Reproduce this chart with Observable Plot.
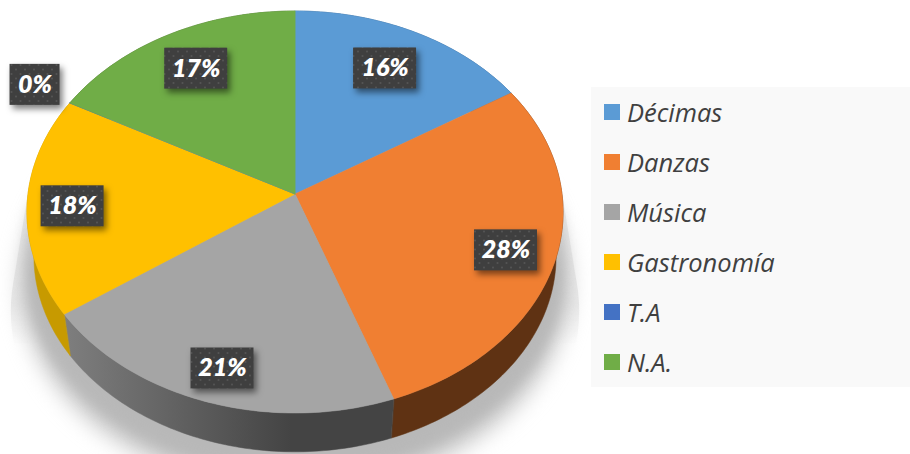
<!DOCTYPE html>
<html>
<head>
<meta charset="utf-8">
<script src="https://cdn.jsdelivr.net/npm/d3@7"></script>
<script src="https://cdn.jsdelivr.net/npm/@observablehq/plot@0.6"></script>
<style>
html,body{margin:0;padding:0;background:#fff;overflow:hidden}
#wrap{position:relative;width:910px;height:454px;overflow:hidden}
#legend{position:absolute;left:591px;top:87px;width:319px;height:300px;background:#f9f9f9;font:italic 25.5px "Open Sans",sans-serif;color:#404040}
#legend .row{position:absolute;left:13px;height:50px;display:flex;align-items:center;white-space:nowrap}
#legend .sw{width:16px;height:16px;margin-right:8px;flex:none}
#legend .tx{margin-left:-1px}
</style>
</head>
<body>
<div id="wrap"></div>
<script>
// data (percent of the whole)
const categories = ["Décimas", "Danzas", "Música", "Gastronomía", "T.A", "N.A."];
const shares = [16.1, 28.4, 20.8, 17.6, 0, 17.1];
const colors = ["#5b9bd5", "#f07f32", "#a5a5a5", "#ffc000", "#4472c4", "#70ad47"];
const sideColors = ["#2f5f8c", "#5f3213", "url(#graySide)", "#c79a00", "#26447c", "#43682a"];
const labelRadius = [0.757, 0.8186, 0.8496, 0.8307, 1.1745, 0.773];
const labelTurn = [-0.8, 0.6, -0.4, -1, 0.9, 0.3];

// layout of the tilted disc
const W = 910, H = 454, cx = 294.5, cy = 193.5, A = 267, B = 199.4, k = 0.0896;
const base = {scale: 0.974, drop: 44.5 / B};

function project(theta, r = 1, scale = 1, drop = 0) {
  const w = 1 + k * r * Math.cos(theta);
  return {x: scale * r * Math.sin(theta) / w, y: scale * -r * Math.cos(theta) / w + drop};
}
function arc(a0, a1) {
  const n = Math.max(1, Math.ceil((a1 - a0) / (Math.PI / 180)));
  return d3.range(n + 1).map(i => a0 + (a1 - a0) * i / n);
}

const pie = d3.pie().sort(null).value(d => d)(shares);
const full = arc(0, 2 * Math.PI);

const tops = pie.flatMap((s, i) =>
  [{...project(0, 0), name: categories[i]}, ...arc(s.startAngle, s.endAngle).map(t => ({...project(t), name: categories[i]}))]
);
const sides = pie.map((s, i) => {
  const t = arc(s.startAngle, s.endAngle);
  return [...t.map(a => project(a)), ...t.slice().reverse().map(a => project(a, 1, base.scale, base.drop))];
});
const labels = pie.map((s, i) => {
  const p = project((s.startAngle + s.endAngle) / 2 + labelTurn[i] * Math.PI / 180, labelRadius[i]);
  const text = Math.round(shares[i]) + "%";
  const hw = (text.length > 2 ? 31.5 : 25) / A, hh = 20.5 / B;
  return {...p, text, x1: p.x - hw, x2: p.x + hw, y1: p.y - hh, y2: p.y + hh};
});

function hull(a, b) {
  const pts = [...a, ...b].map(p => [p.x, p.y]);
  return d3.polygonHull(pts).map(([x, y]) => ({x, y}));
}
const shadowFan = hull(full.map(t => project(t)), full.map(t => project(t, 1, 1.06, 0.49)));
const shadowInner = hull(full.map(t => project(t)), full.map(t => project(t, 1, 1, 0.3)));
const shadowTight = full.map(t => project(t, 1, 1.02, 0.36));

const defs = () => {
  const svg = d3.create("svg:defs");
  const g = svg.append("linearGradient").attr("id", "graySide").attr("gradientUnits", "userSpaceOnUse")
    .attr("x1", 65).attr("x2", 290).attr("y1", 0).attr("y2", 0);
  g.append("stop").attr("offset", 0).attr("stop-color", "#7e7e7e");
  g.append("stop").attr("offset", 1).attr("stop-color", "#444444");
  const f = svg.append("linearGradient").attr("id", "fan").attr("gradientUnits", "userSpaceOnUse")
    .attr("x1", 0).attr("x2", 0).attr("y1", 180).attr("y2", 345);
  [[0, 0.9], [0.75, 1], [1, 0]].forEach(([o, a]) =>
    f.append("stop").attr("offset", o).attr("stop-color", "#ececec").attr("stop-opacity", a));
  const n = svg.append("linearGradient").attr("id", "inner").attr("gradientUnits", "userSpaceOnUse")
    .attr("x1", 0).attr("x2", 0).attr("y1", 195).attr("y2", 270);
  [[0, 0], [1, 1]].forEach(([o, a]) =>
    n.append("stop").attr("offset", o).attr("stop-color", "#b8b8b8").attr("stop-opacity", a));
  const p = svg.append("pattern").attr("id", "dots").attr("patternUnits", "userSpaceOnUse")
    .attr("width", 9).attr("height", 9);
  p.append("rect").attr("width", 9).attr("height", 9).attr("fill", "#3f3f3f");
  p.append("circle").attr("cx", 2.5).attr("cy", 2).attr("r", 1).attr("fill", "#555555");
  p.append("circle").attr("cx", 7).attr("cy", 6.5).attr("r", 1).attr("fill", "#555555");
  return svg.node();
};

const chart = Plot.plot({
  width: W, height: H,
  margin: 0,
  x: {domain: [-cx / A, (W - cx) / A], range: [0, W], axis: null},
  y: {domain: [-cy / B, (H - cy) / B], range: [0, H], axis: null},
  color: {domain: categories, range: colors},
  style: {background: "transparent"},
  marks: [
    defs,
    Plot.line(shadowFan, {x: "x", y: "y", fill: "url(#fan)", stroke: "none", curve: "linear-closed", imageFilter: "blur(0.6px)"}),
    Plot.line(shadowTight, {x: "x", y: "y", fill: "#c4c4c4", stroke: "none", curve: "linear-closed", imageFilter: "blur(11px)"}),
    Plot.line(shadowInner, {x: "x", y: "y", fill: "url(#inner)", stroke: "none", curve: "linear-closed", imageFilter: "blur(6px)"}),
    ...sides.map((pts, i) => Plot.line(pts, {x: "x", y: "y", fill: sideColors[i], stroke: sideColors[i], strokeWidth: 0.5, curve: "linear-closed"})),
    Plot.line(tops, {x: "x", y: "y", z: "name", fill: "name", stroke: "name", strokeWidth: 0.5, curve: "linear-closed"}),
    Plot.rect(labels, {x1: "x1", x2: "x2", y1: "y1", y2: "y2", fill: "url(#dots)", imageFilter: "drop-shadow(3px 4px 3px rgba(0,0,0,.5))"}),
    Plot.text(labels, {x: "x", y: "y", text: "text", fill: "white", fontFamily: "Lato", fontWeight: 800, fontStyle: "italic", fontSize: 25, textAnchor: "middle", lineAnchor: "middle"})
  ]
});
const wrap = document.getElementById("wrap");
wrap.append(chart);

const legend = document.createElement("div");
legend.id = "legend";
categories.forEach((c, i) => {
  const row = document.createElement("div");
  row.className = "row";
  row.style.top = (i * 50) + "px";
  const sw = document.createElement("span");
  sw.className = "sw";
  sw.style.background = colors[i];
  const t = document.createElement("span");
  t.className = "tx";
  t.textContent = c;
  row.append(sw, t);
  legend.append(row);
});
wrap.append(legend);
</script>
</body>
</html>
